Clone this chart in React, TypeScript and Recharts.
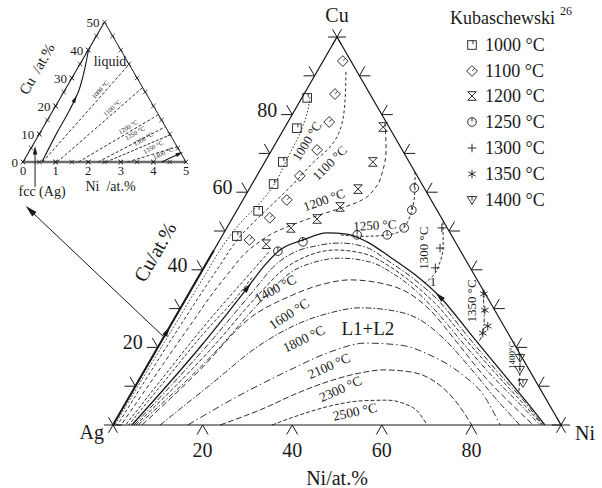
import React from 'react';
import { ScatterChart, Scatter, XAxis, YAxis, Legend } from 'recharts';

type P = [number, number]; // [Ni at.%, Cu at.%]

const FONT = '"Liberation Serif", "Times New Roman", serif';
const INK = '#1a1a1a';

// measured liquidus points (Kubaschewski)
const kub1000: P[] = [[1.2, 84.3], [2.8, 76.5], [4.0, 67.8], [4.8, 62.1], [4.8, 55.2], [3.3, 48.7]];
const kub1100: P[] = [[4.4, 93.8], [6.9, 85.3], [9.2, 78.1], [10.1, 70.9], [9.6, 64.2], [9.8, 58.0], [8.3, 53.4], [6.6, 47.7]];
const kub1200: P[] = [[21.9, 76.8], [24.1, 67.8], [24.3, 60.8], [22.6, 56.2], [19.0, 53.1], [14.3, 50.8], [10.9, 46.6]];
const kub1250: P[] = [[36.7, 61.1], [39.0, 55.4], [39.6, 50.8], [36.7, 49.0], [30.0, 49.0], [18.8, 47.2], [14.4, 44.8]];
const kub1300: P[] = [[48.0, 50.8], [50.2, 45.6], [51.7, 40.5]];
const kub1350: P[] = [[65.9, 33.8], [68.2, 29.6], [70.9, 25.5], [70.7, 23.7]];
const kub1400: P[] = [[82.2, 17.3], [83.7, 14.2], [86.1, 10.8]];

// liquid miscibility gap boundary and the isotherms inside it
const gapEdge: P[] = [[4.2, 0], [9.4, 20.1], [12.3, 35.3], [13.3, 41.2], [14.7, 45.1], [18.6, 47.7], [23.0, 49.5], [27.6, 49.2], [33.1, 47.2], [40.2, 43.3], [48.1, 38.7], [56.5, 33.0], [67.8, 23.7], [79.3, 14.2], [88.8, 6.4], [96.4, 0]];
const gapIn1: P[] = [[4.7, 0], [10.6, 19.8], [14.1, 34.8], [15.6, 41.2], [18.3, 44.6], [22.0, 46.1], [27.2, 46.9], [33.3, 45.9], [40.8, 42.0], [48.7, 37.4], [57.1, 31.7], [67.7, 22.9], [79.0, 13.7], [88.6, 6.2], [96.0, 0]];
const gapIn2: P[] = [[5.1, 0], [12.0, 19.3], [15.8, 34.0], [17.9, 39.9], [21.2, 43.3], [27.0, 45.1], [34.2, 44.1], [42.0, 40.5], [49.3, 36.1], [57.1, 30.7], [67.5, 22.2], [79.0, 13.1], [88.3, 5.9], [95.8, 0]];
const gap1400: P[] = [[5.6, 0], [13.4, 18.8], [17.4, 33.0], [19.9, 39.2], [24.1, 42.0], [29.2, 43.0], [36.4, 42.0], [43.6, 38.7], [50.0, 34.8], [57.1, 29.6], [67.2, 21.4], [78.6, 12.4], [88.1, 5.4], [95.3, 0]];
const gap1600: P[] = [[6.5, 0], [12.3, 14.2], [16.8, 27.6], [22.9, 33.2], [28.2, 36.1], [34.2, 37.4], [41.3, 36.6], [49.4, 33.8], [56.0, 29.6], [65.4, 21.9], [76.8, 12.4], [86.5, 5.2], [93.8, 0]];
const gap1800: P[] = [[10.5, 0], [16.5, 10.3], [22.5, 20.6], [28.6, 26.3], [34.0, 28.9], [40.0, 30.2], [47.0, 29.6], [55.0, 27.1], [63.2, 21.9], [72.4, 14.7], [81.8, 7.0], [90.8, 0]];
const gap2100: P[] = [[16.7, 0], [24.5, 7.7], [32.4, 14.2], [39.0, 18.8], [45.8, 21.1], [53.8, 20.6], [61.8, 18.0], [70.8, 13.4], [79.4, 7.2], [86.4, 0]];
const gap2300: P[] = [[23.9, 0], [30.9, 3.9], [37.5, 8.5], [43.3, 11.6], [48.4, 13.4], [53.2, 14.2], [59.5, 13.7], [66.4, 11.1], [73.1, 6.4], [80.1, 0]];
const gap2500: P[] = [[35.5, 0], [40.4, 2.6], [46.0, 4.9], [52.0, 6.2], [58.0, 6.4], [62.5, 5.4], [66.4, 3.4], [70.1, 0]];

// liquidus isotherms of the homogeneous liquid
const iso1000: P[] = [[1.7, 84.5], [2.9, 81.2], [4.1, 75.3], [4.6, 68.3], [5.0, 63.1], [4.2, 57.2], [2.6, 52.8], [1.6, 47.7], [1.2, 38], [0.9, 25], [0.6, 12], [0.4, 0]];
const iso1100: P[] = [[6.5, 91.0], [9.9, 83.8], [12.5, 76.8], [12.6, 71.6], [10.8, 67.5], [9.5, 63.1], [7.9, 58.8], [6.2, 54.6], [4.3, 49.5], [3.2, 40], [2.3, 27], [1.5, 13], [1.0, 0]];
const iso1200: P[] = [[21.8, 77.8], [25.5, 70.9], [27.4, 65.7], [28.0, 61.1], [26.6, 58.0], [23.7, 56.2], [20.0, 54.6], [15.5, 52.3], [11.3, 49.7], [8.5, 46.4], [6.0, 38], [4.3, 25], [3.0, 12], [1.8, 0]];
const iso1250: P[] = [[34.8, 65.2], [38.2, 58.0], [39.6, 52.3], [38.5, 49.5], [34.1, 48.7], [29.6, 48.7], [26.2, 49.0]];
const iso1250Ag: P[] = [[12.5, 44.5], [10.5, 37], [7.5, 25], [5.0, 12], [2.8, 0]];
const iso1300Ag: P[] = [[12.0, 38], [10.9, 32], [8.8, 25], [6.0, 12], [3.5, 0]];
const iso1300: P[] = [[47.5, 52.3], [50.5, 46.4], [52.0, 42.0], [52.2, 38.4], [51.3, 36.6]];
const iso1350: P[] = [[65.2, 34.8], [67.3, 30.9], [69.3, 27.1], [70.8, 23.2], [70.9, 21.1]];
const iso1400: P[] = [[80.5, 19.8], [83.1, 15.5], [86.5, 8.2]];

const cuTicks = [10, 20, 30, 40, 50, 60, 70, 80, 90];
const cuTickLabels = [20, 40, 60, 80];
const niTicks = [20, 40, 60, 80];

// inset: Ag corner, 0-5 at.% Ni and 0-50 at.% Cu
const insetLiquid: P[] = [[0.58, 0], [0.52, 10.4], [0.50, 18.7], [0.45, 24.8], [0.31, 30.6], [0.12, 36.7], [0, 40.3]];
const insetIso1000: P[] = [[0.6, 0], [1.51, 34.9]];
const insetIso1100: P[] = [[1.05, 0], [2.34, 26.6]];
const insetIso1200: P[] = [[1.7, 0], [3.31, 16.9]];
const insetIso1250: P[] = [[2.3, 0], [3.74, 12.6]];
const insetIso1300: P[] = [[2.55, 0], [4.03, 9.7]];
const insetIso1350: P[] = [[3.2, 0], [4.46, 5.4]];
const insetIso1400: P[] = [[4.25, 0], [4.68, 3.2]];
const insetNiTicks = [0, 1, 2, 3, 4, 5];
const insetCuTicks = [0, 10, 20, 30, 40, 50];
const insetMinorCu = [5, 10, 15, 20, 25, 30, 35, 40, 45];
const insetMinorNi = [0.5, 1, 1.5, 2, 2.5, 3, 3.5, 4, 4.5];

const measured = [
  { name: '1000 °C', kind: 'square', pts: kub1000 },
  { name: '1100 °C', kind: 'diamond', pts: kub1100 },
  { name: '1200 °C', kind: 'hourglass', pts: kub1200 },
  { name: '1250 °C', kind: 'circle', pts: kub1250 },
  { name: '1300 °C', kind: 'plus', pts: kub1300 },
  { name: '1350 °C', kind: 'star', pts: kub1350 },
  { name: '1400 °C', kind: 'tri', pts: kub1400 },
];

const mainLines = [
  { key: 'gap', pts: gapEdge, w: 1.3, curve: 'monotoneX' },
  { key: 'in1', pts: gapIn1, dash: '6 2 1.5 2', curve: 'monotoneX' },
  { key: 'in2', pts: gapIn2, dash: '4 2', curve: 'monotoneX' },
  { key: 'g1400', pts: gap1400, dash: '5 2 1.5 2', curve: 'monotoneX' },
  { key: 'g1600', pts: gap1600, dash: '6 3', curve: 'monotoneX' },
  { key: 'g1800', pts: gap1800, dash: '6 2 1.5 2', curve: 'monotoneX' },
  { key: 'g2100', pts: gap2100, dash: '7 3 1.5 3', curve: 'monotoneX' },
  { key: 'g2300', pts: gap2300, dash: '6 2.5', curve: 'monotoneX' },
  { key: 'g2500', pts: gap2500, dash: '4 2', curve: 'monotoneX' },
  { key: 'i1000', pts: iso1000, dash: '1.5 2', curve: 'monotoneY' },
  { key: 'i1100', pts: iso1100, dash: '3 2.5', curve: 'monotoneY' },
  { key: 'i1200', pts: iso1200, dash: '4 3', curve: 'monotoneY' },
  { key: 'i1250', pts: iso1250, dash: '3 2', curve: 'natural' },
  { key: 'i1250a', pts: iso1250Ag, dash: '3 2', curve: 'monotoneY' },
  { key: 'i1300a', pts: iso1300Ag, dash: '3 2', curve: 'monotoneY' },
  { key: 'i1300', pts: iso1300, dash: '3 2', curve: 'monotoneY' },
  { key: 'i1350', pts: iso1350, dash: '4 2 1.5 2', curve: 'monotoneY' },
  { key: 'i1400', pts: iso1400, dash: '3 2', curve: 'monotoneY' },
];

const mainTexts = [
  { at: [6.7, 73.2], text: '1000 °C', rot: -58, size: 13 },
  { at: [14.6, 67.5], text: '1100 °C', rot: -45, size: 13 },
  { at: [18.1, 58.0], text: '1200 °C', rot: -20, size: 13 },
  { at: [32.7, 51.5], text: '1250 °C', rot: -3, size: 13 },
  { at: [46.4, 45.6], text: '1300 °C', rot: -90, size: 13 },
  { at: [53.0, 36.9], text: '1', size: 13 },
  { at: [64.1, 32.0], text: '1350 °C', rot: -90, size: 13 },
  { at: [80.1, 18.0], text: '1400°C', rot: -90, size: 9 },
  { at: [18.7, 35.1], text: '1400 °C', rot: -28, size: 13.5 },
  { at: [25.0, 28.6], text: '1600 °C', rot: -33, size: 13.5 },
  { at: [31.5, 22.2], text: '1800 °C', rot: -26, size: 13.5 },
  { at: [40.6, 15.2], text: '2100 °C', rot: -24, size: 13.5 },
  { at: [46.1, 9.3], text: '2300 °C', rot: -24, size: 13.5 },
  { at: [52.3, 3.4], text: '2500 °C', rot: -12, size: 13.5 },
  { at: [44.4, 25.0], text: 'L1+L2', size: 19 },
  { at: [0, 100], text: 'Cu', dy: -22, size: 20 },
  { at: [0, 0], text: 'Ag', dx: -9, dy: 7, size: 20, anchor: 'end' },
  { at: [100, 0], text: 'Ni', dx: 14, dy: 8, size: 20, anchor: 'start' },
  { at: [50, 0], text: 'Ni/at.%', dy: 53, size: 20 },
  { at: [0, 44.6], text: 'Cu/at.%', dx: -58, rot: -60, size: 20 },
];

const mainHeads = [
  { at: [12.3, 35.3], angle: -52 },
  { at: [56.5, 33.0], angle: -136 },
  { at: [0, 24], angle: -60 },
];

const insetLines = [
  { key: 'liq', pts: insetLiquid, w: 1.1, curve: 'monotoneY' },
  { key: 'a', pts: insetIso1000, dash: '3 2' },
  { key: 'b', pts: insetIso1100, dash: '3 2' },
  { key: 'c', pts: insetIso1200, dash: '3 2' },
  { key: 'd', pts: insetIso1250, dash: '3 2' },
  { key: 'e', pts: insetIso1300, dash: '3 1.5' },
  { key: 'f', pts: insetIso1350, dash: '3 2' },
  { key: 'g', pts: insetIso1400, w: 1.1 },
];

const insetTexts = [
  { at: [1.07, 25.9], text: '1000 °C', rot: -48, size: 6.5 },
  { at: [1.76, 19.4], text: '1100 °C', rot: -42, size: 6.5 },
  { at: [2.59, 12.6], text: '1200 °C', rot: -32, size: 6.5 },
  { at: [2.91, 10.4], text: '1250 °C', rot: -30, size: 6.5 },
  { at: [3.27, 8.3], text: '1300 °C', rot: -30, size: 6.5 },
  { at: [3.72, 5.4], text: '1350 °C', rot: -28, size: 6.5 },
  { at: [4.13, 3.2], text: '1400 °C', rot: -25, size: 6.5 },
  { at: [0.87, 36.0], text: 'liquid', size: 14 },
  { at: [2.5, 0], text: 'Ni\u00a0 /at.%', dx: 6, dy: 24, size: 14 },
  { at: [0, 30], text: 'Cu\u00a0 /at.%', dx: -35, dy: -9, rot: -60, size: 15 },
];

const toMain = (p: any) => ({ x: p[0] + p[1] / 2, y: p[1] });
const toInset = (p: any) => ({ x: p[0] + p[1] / 20, y: p[1] });
const noDot = () => <g />;

function Mark({ kind, x, y }: any) {
  const s = 4.3;
  const g = { fill: 'none', stroke: INK, strokeWidth: 0.9 };
  if (kind === 'square') return <g {...g}><rect x={x - s} y={y - s} width={2 * s} height={2 * s} /><path d={`M${x + 1},${y - s}v${s * 0.8}`} /></g>;
  if (kind === 'diamond') {
    const d = s * 1.25;
    return <g {...g}><path d={`M${x},${y - d}L${x + d},${y}L${x},${y + d}L${x - d},${y}Z`} /><path d={`M${x + d * 0.5},${y - d * 0.5}l${-d * 0.45},${d * 0.45}`} /></g>;
  }
  if (kind === 'hourglass') return <path {...g} d={`M${x - s},${y - s}H${x + s}L${x - s},${y + s}H${x + s}Z`} />;
  if (kind === 'circle') return <g {...g}><circle cx={x} cy={y} r={s} /><path d={`M${x},${y - s}V${y - 0.5}`} /></g>;
  if (kind === 'plus') return <path {...g} d={`M${x - s},${y}H${x + s}M${x},${y - s}V${y + s}`} />;
  if (kind === 'star') {
    const a = s * 0.87, b = s * 0.5;
    return <path {...g} d={`M${x},${y - s}V${y + s}M${x - a},${y - b}L${x + a},${y + b}M${x - a},${y + b}L${x + a},${y - b}`} />;
  }
  return <g {...g}><path d={`M${x - s * 1.1},${y - s * 0.8}H${x + s * 1.1}L${x},${y + s}Z`} /><path d={`M${x},${y - s * 0.8}V${y + s * 0.1}`} /></g>;
}

function Head({ x, y, angle, size = 6 }: any) {
  return <path d={`M${size},0L${-size * 0.7},${size * 0.45}L${-size * 0.7},${-size * 0.45}Z`} transform={`translate(${x},${y}) rotate(${angle})`} fill={INK} />;
}

const textShape = (p: any) => {
  const t = p.payload;
  const x = p.cx + (t.dx || 0);
  const y = p.cy + (t.dy || 0);
  return (
    <text x={x} y={y} fontSize={t.size} fontFamily={FONT} fill={INK} textAnchor={t.anchor || 'middle'}
      dominantBaseline="central" transform={t.rot ? `rotate(${t.rot} ${x} ${y})` : undefined}>{t.text}</text>
  );
};

const num = (x: number, y: number, v: any, size: number, anchor = 'middle') => (
  <text x={x} y={y} fontSize={size} fontFamily={FONT} fill={INK} stroke="none" textAnchor={anchor} dominantBaseline="central">{v}</text>
);

const cuTickShape = (p: any) => {
  const { cx, cy } = p;
  const v = p.payload.v;
  return (
    <g stroke={INK} strokeWidth={1}>
      <line x1={cx} y1={cy} x2={cx - 11} y2={cy} />
      <line x1={cx} y1={cy} x2={cx - 5.5} y2={cy - 9.5} />
      {cuTickLabels.includes(v) && num(cx - 15, cy - 5, v, 20, 'end')}
    </g>
  );
};

const rightTickShape = (p: any) => (
  <g stroke={INK} strokeWidth={1}>
    <line x1={p.cx} y1={p.cy} x2={p.cx + 11} y2={p.cy} />
    <line x1={p.cx} y1={p.cy} x2={p.cx + 5.5} y2={p.cy - 9.5} />
  </g>
);

const niTickShape = (p: any) => (
  <g stroke={INK} strokeWidth={1}>
    <line x1={p.cx} y1={p.cy} x2={p.cx - 5.5} y2={p.cy + 9.5} />
    <line x1={p.cx} y1={p.cy} x2={p.cx + 5.5} y2={p.cy + 9.5} />
    {num(p.cx, p.cy + 25, p.payload.v, 20)}
  </g>
);

const vertexShape = (p: any) => {
  const r = 9, a = r * 0.5, b = r * 0.866;
  return <path stroke={INK} strokeWidth={1} d={`M${p.cx - r},${p.cy}H${p.cx + r}M${p.cx - a},${p.cy - b}L${p.cx + a},${p.cy + b}M${p.cx - a},${p.cy + b}L${p.cx + a},${p.cy - b}`} />;
};

const headShape = (p: any) => <Head x={p.cx} y={p.cy} angle={p.payload.angle} />;

const pointerShape = (p: any) => {
  const ex = p.cx - 137, ey = p.cy - 130;
  return <g><line x1={p.cx} y1={p.cy} x2={ex + 5} y2={ey + 5} stroke={INK} strokeWidth={1} /><Head x={ex + 4} y={ey + 4} angle={-136.5} size={7} /></g>;
};

function LegendBox() {
  return (
    <div style={{ fontFamily: FONT, color: INK, fontSize: 18, lineHeight: 1 }}>
      <div style={{ height: 28, display: 'flex', alignItems: 'center', whiteSpace: 'nowrap' }}>
        Kubaschewski<span style={{ fontSize: 12, position: 'relative', top: -7, marginLeft: 5 }}>26</span>
      </div>
      {measured.map((m) => (
        <div key={m.name} style={{ height: 25.8, display: 'flex', alignItems: 'center', whiteSpace: 'nowrap' }}>
          <svg width={14} height={14} style={{ marginLeft: 15 }}><Mark kind={m.kind} x={7} y={7} /></svg>
          <span style={{ marginLeft: 6 }}>{m.name}</span>
        </div>
      ))}
    </div>
  );
}

function lineSeries(l: any, conv: any) {
  return (
    <Scatter key={l.key} data={l.pts.map(conv)} shape={noDot} legendType="none" isAnimationActive={false}
      line={{ stroke: INK, strokeWidth: l.w || 0.9, strokeDasharray: l.dash, fill: 'none' }}
      lineJointType={l.curve || 'linear'} />
  );
}

function MainChart() {
  const outline: P[] = [[0, 0], [100, 0], [0, 100], [0, 0]];
  return (
    <ScatterChart width={602} height={488} margin={{ top: 37, right: 41, bottom: 63, left: 113 }}>
      <XAxis type="number" dataKey="x" domain={[0, 100]} hide />
      <YAxis type="number" dataKey="y" domain={[0, 100]} hide />
      {lineSeries({ key: 'outline', pts: outline, w: 1.2 }, toMain)}
      {lineSeries({ key: 'agcu', pts: [[0, 0], [0, 45]], w: 2 }, toMain)}
      <Scatter data={cuTicks.map((c) => ({ ...toMain([0, c]), v: c }))} shape={cuTickShape} legendType="none" isAnimationActive={false} />
      <Scatter data={cuTicks.map((c) => ({ ...toMain([100 - c, c]), v: c }))} shape={rightTickShape} legendType="none" isAnimationActive={false} />
      <Scatter data={niTicks.map((n) => ({ ...toMain([n, 0]), v: n }))} shape={niTickShape} legendType="none" isAnimationActive={false} />
      <Scatter data={outline.slice(0, 3).map(toMain)} shape={vertexShape} legendType="none" isAnimationActive={false} />
      {mainLines.map((l) => lineSeries(l, toMain))}
      {measured.map((m) => (
        <Scatter key={m.name} name={m.name} data={m.pts.map(toMain)} isAnimationActive={false}
          shape={(p: any) => <Mark kind={m.kind} x={p.cx} y={p.cy} />} />
      ))}
      <Scatter data={mainHeads.map((h) => ({ ...toMain(h.at), angle: h.angle }))} shape={headShape} legendType="none" isAnimationActive={false} />
      <Scatter data={[toMain([0, 22.7])]} shape={pointerShape} legendType="none" isAnimationActive={false} />
      <Scatter data={mainTexts.map((t) => ({ ...t, ...toMain(t.at) }))} shape={textShape} legendType="none" isAnimationActive={false} />
      <Legend layout="horizontal" verticalAlign="middle" align="center"
        wrapperStyle={{ left: 450, top: 4, width: 150, height: 215 }} content={() => <LegendBox />} />
    </ScatterChart>
  );
}

const smallX = (p: any) => (
  <path stroke={INK} strokeWidth={0.8} d={`M${p.cx - 2.2},${p.cy - 2.2}L${p.cx + 2.2},${p.cy + 2.2}M${p.cx - 2.2},${p.cy + 2.2}L${p.cx + 2.2},${p.cy - 2.2}`} />
);

const insetCuLabel = (p: any) => <g>{smallX(p)}{num(p.cx - 5, p.cy, p.payload.v, 13, 'end')}</g>;
const insetNiLabel = (p: any) => <g>{smallX(p)}{num(p.cx, p.cy + 9, p.payload.v, 12.5)}</g>;

const fccShape = (p: any) => (
  <g>
    <line x1={p.cx} y1={p.cy + 4} x2={p.cx} y2={p.cy + 40} stroke={INK} strokeWidth={1} />
    <Head x={p.cx} y={p.cy + 4} angle={-90} size={5} />
    <text x={p.cx + 7} y={p.cy + 45} fontSize={14} fontFamily={FONT} fill={INK} textAnchor="middle" dominantBaseline="central">fcc (Ag)</text>
  </g>
);

function InsetChart() {
  return (
    <ScatterChart width={200} height={200} margin={{ top: 22, right: 14, bottom: 38, left: 23 }}>
      <XAxis type="number" dataKey="x" domain={[0, 5]} hide />
      <YAxis type="number" dataKey="y" domain={[0, 50]} hide />
      <Scatter data={[[0, 0], [5, 0]].map(toInset)} shape={noDot} legendType="none" isAnimationActive={false}
        line={{ stroke: '#6e6e6e', strokeWidth: 2.4 }} />
      {lineSeries({ key: 'left', pts: [[0, 0], [0, 50]], w: 1.1 }, toInset)}
      {lineSeries({ key: 'right', pts: [[0, 50], [5, 0]], w: 1 }, toInset)}
      <Scatter data={insetMinorCu.map((c) => toInset([0, c]))} shape={smallX} legendType="none" isAnimationActive={false} />
      <Scatter data={insetMinorCu.map((c) => toInset([5 - c / 10, c]))} shape={smallX} legendType="none" isAnimationActive={false} />
      <Scatter data={insetMinorNi.map((n) => toInset([n, 0]))} shape={smallX} legendType="none" isAnimationActive={false} />
      <Scatter data={insetCuTicks.map((c) => ({ ...toInset([0, c]), v: c }))} shape={insetCuLabel} legendType="none" isAnimationActive={false} />
      <Scatter data={insetNiTicks.map((n) => ({ ...toInset([n, 0]), v: n }))} shape={insetNiLabel} legendType="none" isAnimationActive={false} />
      {insetLines.map((l) => lineSeries(l, toInset))}
      <Scatter data={[{ ...toInset([0.47, 22.3]), angle: -65 }, { ...toInset([4.64, 2.9]), angle: -24 }]}
        shape={(p: any) => <Head x={p.cx} y={p.cy} angle={p.payload.angle} size={4.5} />} legendType="none" isAnimationActive={false} />
      <Scatter data={[toInset([0.1, 5.4])]} shape={fccShape} legendType="none" isAnimationActive={false} />
      <Scatter data={insetTexts.map((t) => ({ ...t, ...toInset(t.at) }))} shape={textShape} legendType="none" isAnimationActive={false} />
    </ScatterChart>
  );
}

export default function App() {
  return (
    <div style={{ position: 'absolute', left: 0, top: 0, width: 602, height: 488, background: '#fff', overflow: 'hidden' }}>
      <div style={{ position: 'absolute', left: 0, top: 0 }}><MainChart /></div>
      <div style={{ position: 'absolute', left: 0, top: 0 }}><InsetChart /></div>
    </div>
  );
}
